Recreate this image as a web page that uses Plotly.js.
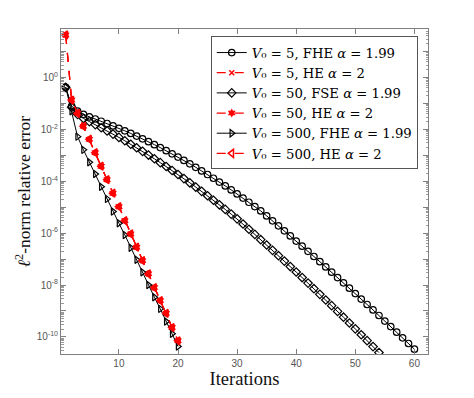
<!DOCTYPE html>
<html>
<head>
<meta charset="utf-8">
<script src="https://cdn.plot.ly/plotly-3.0.1.min.js"></script>
<style>html,body{margin:0;padding:0;background:#fff}#chart{width:474px;height:398px}</style>
</head>
<body>
<div id="chart"></div>
<script>
// log10 of the l2-norm relative error
const fheV5Log = [-0.38,-1.10,-1.30,-1.42,-1.52,-1.60,-1.686,-1.774,-1.865,-1.959,-2.056,-2.156,-2.259,-2.366,-2.475,-2.588,-2.703,-2.822,-2.944,-3.069,-3.197,-3.328,-3.462,-3.600,-3.740,-3.884,-4.030,-4.180,-4.333,-4.489,-4.648,-4.810,-4.975,-5.144,-5.335,-5.526,-5.719,-5.913,-6.108,-6.305,-6.502,-6.701,-6.901,-7.102,-7.304,-7.507,-7.712,-7.917,-8.124,-8.332,-8.541,-8.751,-8.962,-9.175,-9.389,-9.603,-9.819,-10.036,-10.255,-10.474];
const fseV50Log = [-0.38,-1.15,-1.42,-1.58,-1.70,-1.816,-1.936,-2.058,-2.182,-2.310,-2.440,-2.574,-2.710,-2.848,-2.990,-3.134,-3.282,-3.432,-3.584,-3.740,-3.898,-4.060,-4.224,-4.390,-4.560,-4.732,-4.908,-5.086,-5.266,-5.450,-5.649,-5.849,-6.050,-6.253,-6.458,-6.663,-6.870,-7.079,-7.289,-7.500,-7.713,-7.927,-8.142,-8.359,-8.578,-8.797,-9.018,-9.241,-9.465,-9.690,-9.917,-10.145,-10.374,-10.605];
const fheV500Log = [-0.38,-1.30,-2.28,-2.79,-3.27,-3.72,-4.21,-4.68,-5.17,-5.62,-6.07,-6.56,-7.03,-7.51,-8.00,-8.47,-8.92,-9.41,-9.88,-10.37];
const heLog = [1.64,-0.87,-1.38,-1.88,-2.38,-2.90,-3.42,-3.94,-4.46,-4.98,-5.52,-6.03,-6.54,-7.06,-7.57,-8.10,-8.60,-9.09,-9.64,-10.15];

const seriesNames = [
  '<i>V</i>₀ = 5, FHE <i>α</i> = 1.99',
  '<i>V</i>₀ = 5, HE <i>α</i> = 2',
  '<i>V</i>₀ = 50, FSE <i>α</i> = 1.99',
  '<i>V</i>₀ = 50, HE <i>α</i> = 2',
  '<i>V</i>₀ = 500, FHE <i>α</i> = 1.99',
  '<i>V</i>₀ = 500, HE <i>α</i> = 2'
];
const xTickVals = [10,20,30,40,50,60];
const yTickExp = [0,-1,-2,-3,-4,-5,-6,-7,-8,-9,-10,1];

const iters = n => Array.from({length:n},(_,i)=>i+1);
const lin = a => a.map(v=>Math.pow(10,v));

function blackTrace(name, logs, sym){
  return {x: iters(logs.length), y: lin(logs), name, type:'scatter', mode:'lines+markers',
    line:{color:'#000', width:1},
    marker:{symbol:sym, size:6.5, color:'#000', line:{width:1.2, color:'#000'}}};
}
function redTrace(name, logs, sym, size){
  return {x: iters(logs.length), y: lin(logs), name, type:'scatter', mode:'lines+markers',
    line:{color:'#ff0000', width:1.2, dash:'dash'},
    marker:{symbol:sym, size:size, color:'#ff0000', line:{width:1.5, color:'#ff0000'}}};
}

const data = [
  blackTrace(seriesNames[0], fheV5Log, 'circle-open'),
  redTrace(seriesNames[1], heLog, 'x-thin-open', 5),
  blackTrace(seriesNames[2], fseV50Log, 'diamond-open'),
  redTrace(seriesNames[3], heLog, 'hexagram', 4.5),
  blackTrace(seriesNames[4], fheV500Log, 'triangle-right-open'),
  redTrace(seriesNames[5], heLog, 'triangle-left-open', 7)
];

const yVals = yTickExp.map(e=>Math.pow(10,e));
const yText = yTickExp.map(e=> (e%2===0 && e<=0) ? '10<sup>'+e+'</sup>' : '');
const minorVals = [];
for (let d=-11; d<=1; d++) for (let k=2;k<=9;k++) minorVals.push(k*Math.pow(10,d));

const axisCommon = {showline:true, mirror:'ticks', linecolor:'#7f7f7f', linewidth:1,
  ticks:'inside', tickcolor:'#7f7f7f', showgrid:false, zeroline:false,
  tickfont:{family:'Liberation Sans, Arial, sans-serif', size:10, color:'#555'}};

const layout = {
  width:474, height:398,
  margin:{l:61, r:46, t:29, b:44},
  paper_bgcolor:'#fff', plot_bgcolor:'#fff',
  showlegend:true,
  xaxis: Object.assign({}, axisCommon, {range:[0.2,62.3], tickvals:xTickVals, ticklen:5,
    title:{text:'Iterations', font:{family:'Liberation Serif, serif', size:18.5, color:'#111'}, standoff:4}}),
  yaxis: Object.assign({}, axisCommon, {type:'log', range:[-10.66,1.87], tickmode:'array',
    tickvals:yVals, ticktext:yText, ticklen:5,
    minor:{tickmode:'array', tickvals:minorVals, ticks:'inside', ticklen:2.5, tickcolor:'#9a9a9a', showgrid:false},
    title:{text:'<i>ℓ</i><sup>2</sup>-norm relative error', font:{family:'Liberation Serif, serif', size:17.5, color:'#111'}, standoff:1}}),
  legend:{x:0.408, y:0.977, xanchor:'left', yanchor:'top', bgcolor:'#fff',
    bordercolor:'#555', borderwidth:1, tracegroupgap:0, itemwidth:30,
    font:{family:'DejaVu Serif, serif', size:13.2, color:'#000'}}
};

Plotly.newPlot('chart', data, layout, {displayModeBar:false, staticPlot:true});
</script>
</body>
</html>
